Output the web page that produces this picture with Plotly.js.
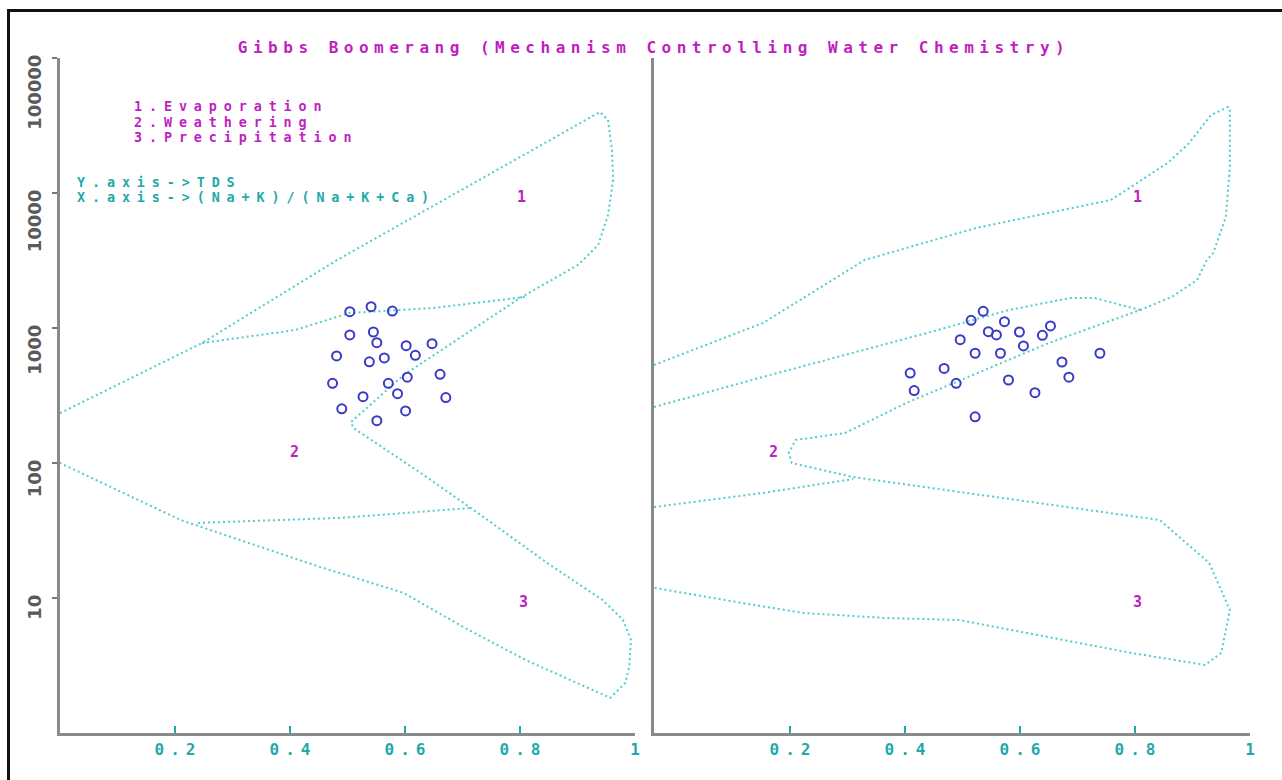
<!DOCTYPE html>
<html>
<head>
<meta charset="utf-8">
<script src="https://cdn.plot.ly/plotly-3.0.1.min.js"></script>
<style>
  html, body { margin: 0; padding: 0; background: #fff; overflow: hidden; }
  #wrap { position: relative; width: 1282px; height: 780px; }
  #chart { width: 1282px; height: 780px; }
  #frame { position: absolute; left: 7px; top: 9px; width: 1300px; height: 800px;
           border-left: 3px solid #111; border-top: 3px solid #111; pointer-events: none; }
  .gtitle { letter-spacing: 5.5px; }
  .annotation-text { letter-spacing: 6.9px; }
  .xtick text, .x2tick text { letter-spacing: 6px; }
</style>
</head>
<body>
<div id="wrap"><div id="chart"></div><div id="frame"></div></div>
<script>
// ---- Data ----
// Left panel boundary of the Gibbs boomerang (x = (Na+K)/(Na+K+Ca), y = TDS)
const leftOuterX = [0, 0.247, 0.482, 0.939, 0.953, 0.960, 0.962, 0.953, 0.936, 0.901, 0.803, 0.671, 0.598, 0.506, 0.510, 0.628, 0.744, 0.847, 0.943, 0.979, 0.993, 0.990, 0.983, 0.957, 0.810, 0.701, 0.598, 0.452, 0.261, 0.210, 0];
const leftOuterY = [234, 774, 3190, 39800, 34700, 20800, 12500, 6870, 4120, 2930, 1700, 723, 449, 201, 182, 84, 37.8, 18.2, 9.7, 6.9, 4.9, 3.08, 2.35, 1.82, 3.47, 6.1, 10.9, 17, 31.9, 37.8, 100];
const leftUpperSepX = [0.247, 0.409, 0.503, 0.584, 0.649, 0.810];
const leftUpperSepY = [774, 966, 1291, 1358, 1406, 1700];
const leftLowerSepX = [0.240, 0.487, 0.713];
const leftLowerSepY = [36, 39.2, 46.4];

// Right panel boundary
const rightOuterX = [-0.0365, 0.153, 0.330, 0.523, 0.758, 0.857, 0.894, 0.932, 0.962, 0.965, 0.965, 0.958, 0.936, 0.925, 0.908, 0.864, 0.809, 0.650, 0.510, 0.402, 0.296, 0.210, 0.198, 0.203, 0.310, 0.510, 0.687, 0.843, 0.929, 0.965, 0.950, 0.922, 0.793, 0.650, 0.494, 0.367, 0.224, 0.117, -0.0365];
const rightOuterY = [532, 1089, 3190, 5500, 8870, 16700, 23400, 37800, 43400, 41200, 15600, 6640, 3590, 3190, 2270, 1700, 1360, 774, 434, 278, 167, 148, 119, 100, 78.7, 60, 47.2, 37.8, 18.2, 8.15, 3.92, 3.19, 3.92, 5.14, 6.87, 7.11, 7.74, 9.18, 11.9];
const rightUpperSepX = [-0.0365, 0.153, 0.438, 0.581, 0.687, 0.730, 0.809];
const rightUpperSepY = [260, 434, 918, 1360, 1667, 1667, 1360];
const rightLowerSepX = [-0.0365, 0.153, 0.310];
const rightLowerSepY = [47.2, 60, 76];

// Samples
const leftRatio = [0.504, 0.541, 0.578, 0.504, 0.545, 0.551, 0.602, 0.647, 0.481, 0.538, 0.564, 0.618, 0.474, 0.571, 0.604, 0.661, 0.527, 0.587, 0.671, 0.490, 0.601, 0.551];
const leftTDS   = [1321, 1438, 1336, 888, 934, 778, 739, 765, 621, 562, 600, 628, 389, 389, 432, 454, 310, 326, 305, 252, 243, 206];
const rightRatio = [0.536, 0.515, 0.573, 0.545, 0.559, 0.599, 0.639, 0.653, 0.496, 0.522, 0.566, 0.606, 0.739, 0.673, 0.409, 0.468, 0.580, 0.685, 0.416, 0.489, 0.626, 0.522];
const rightTDS   = [1330, 1140, 1114, 939, 888, 934, 883, 1035, 819, 650, 650, 736, 650, 560, 464, 502, 412, 432, 344, 389, 332, 220];

// Ticks
const xTickVals = [0.2, 0.4, 0.6, 0.8, 1];
const xTickText = ['0.2', '0.4', '0.6', '0.8', '1'];
const yTickVals = [10, 100, 1000, 10000, 100000];
const yTickText = ['10', '100', '1000', '10000', '100000'];

// Texts
const titleText = 'Gibbs Boomerang (Mechanism Controlling Water Chemistry)';
const mechanismLines = ['1.Evaporation', '2.Weathering', '3.Precipitation'];
const axisNoteLines = ['Y.axis->TDS', 'X.axis->(Na+K)/(Na+K+Ca)'];
const regionLabels = ['1', '2', '3'];

// ---- Styles ----
const W = 1282, H = 780;
const MAGENTA = '#bf1fc0';
const TEAL = '#1fa9a9';
const LINE = '#4fcccc';
const PT = '#3a3ac6';
const MONO = 'DejaVu Sans Mono, Liberation Mono, monospace';

const px = v => v / W;
const py = v => 1 - v / H;

function bound(x, y, xa, ya) {
  return { x, y, xaxis: xa, yaxis: ya, type: 'scatter', mode: 'lines',
           line: { color: LINE, width: 2, dash: '2px,3px' }, hoverinfo: 'skip' };
}
function pts(x, y, xa, ya) {
  return { x, y, xaxis: xa, yaxis: ya, type: 'scatter', mode: 'markers',
           marker: { symbol: 'circle-open', size: 9, color: PT, line: { width: 2, color: PT } },
           hoverinfo: 'skip' };
}

const data = [
  bound(leftOuterX, leftOuterY, 'x', 'y'),
  bound(leftUpperSepX, leftUpperSepY, 'x', 'y'),
  bound(leftLowerSepX, leftLowerSepY, 'x', 'y'),
  bound(rightOuterX, rightOuterY, 'x2', 'y2'),
  bound(rightUpperSepX, rightUpperSepY, 'x2', 'y2'),
  bound(rightLowerSepX, rightLowerSepY, 'x2', 'y2'),
  pts(leftRatio, leftTDS, 'x', 'y'),
  pts(rightRatio, rightTDS, 'x2', 'y2')
];

const monoBold = (size, color) => ({ family: MONO, size, color, weight: 'bold' });

const annotations = [];
mechanismLines.forEach((t, i) => annotations.push({
  text: t, xref: 'paper', yref: 'paper', x: px(133), y: py(107 + 15 * i),
  xanchor: 'left', yanchor: 'middle', showarrow: false, borderpad: 0, font: monoBold(13.4, MAGENTA)
}));
axisNoteLines.forEach((t, i) => annotations.push({
  text: t, xref: 'paper', yref: 'paper', x: px(76), y: py(182 + 15 * i),
  xanchor: 'left', yanchor: 'middle', showarrow: false, borderpad: 0, font: monoBold(13.4, TEAL)
}));
const regionPos = [[522, 197], [295, 452], [524, 602], [1138, 197], [774, 452], [1138, 602]];
regionPos.forEach((p, i) => annotations.push({
  text: regionLabels[i % 3], xref: 'paper', yref: 'paper', x: px(p[0] + 3), y: py(p[1]),
  xanchor: 'center', yanchor: 'middle', showarrow: false, font: monoBold(15, MAGENTA)
}));

// tick labels padded with figure spaces so each one starts at its tick and runs downward
const yTickPadded = yTickText.map(t => t.padStart(6, '\u2007'));

const yDomain = [1 - 733 / H, 1 - 58 / H];
const xAxisCommon = {
  showgrid: false, zeroline: false, showline: true, linecolor: '#8a8a8a', linewidth: 3,
  ticks: 'inside', ticklen: 7, tickwidth: 1.5, tickcolor: TEAL,
  tickmode: 'array', tickvals: xTickVals, ticktext: xTickText, ticklabelshift: 3,
  tickfont: monoBold(16, TEAL), fixedrange: true
};
const layout = {
  width: W, height: H,
  margin: { l: 0, r: 0, t: 0, b: 0, pad: 0 },
  paper_bgcolor: '#ffffff', plot_bgcolor: '#ffffff',
  showlegend: false, hovermode: false,
  title: { text: titleText, x: px(654), y: py(47), xref: 'paper', yref: 'paper',
           xanchor: 'center', yanchor: 'middle', font: monoBold(16, MAGENTA) },
  xaxis: Object.assign({}, xAxisCommon, { domain: [px(60), px(635)], range: [0, 1], anchor: 'y' }),
  xaxis2: Object.assign({}, xAxisCommon, { domain: [px(654), px(1250)], range: [-0.0365, 1], anchor: 'y2' }),
  yaxis: {
    type: 'log', range: [0, 5], domain: yDomain, anchor: 'x',
    showgrid: false, zeroline: false, showline: true, linecolor: '#8a8a8a', linewidth: 3,
    ticks: 'outside', ticklen: 5, tickwidth: 1.5, tickcolor: '#777',
    tickmode: 'array', tickvals: yTickVals, ticktext: yTickPadded,
    tickangle: -90, ticklabelshift: 37, ticklabelstandoff: 4,
    tickfont: { family: 'DejaVu Sans, Liberation Sans, sans-serif', size: 18, color: '#5a5a5a', weight: 'bold' },
    fixedrange: true
  },
  yaxis2: {
    type: 'log', range: [0, 5], domain: yDomain, anchor: 'x2',
    showgrid: false, zeroline: false, showline: true, linecolor: '#8a8a8a', linewidth: 3,
    ticks: '', showticklabels: false, fixedrange: true
  },
  annotations
};

Plotly.newPlot('chart', data, layout, { staticPlot: true, displayModeBar: false });
</script>
</body>
</html>
